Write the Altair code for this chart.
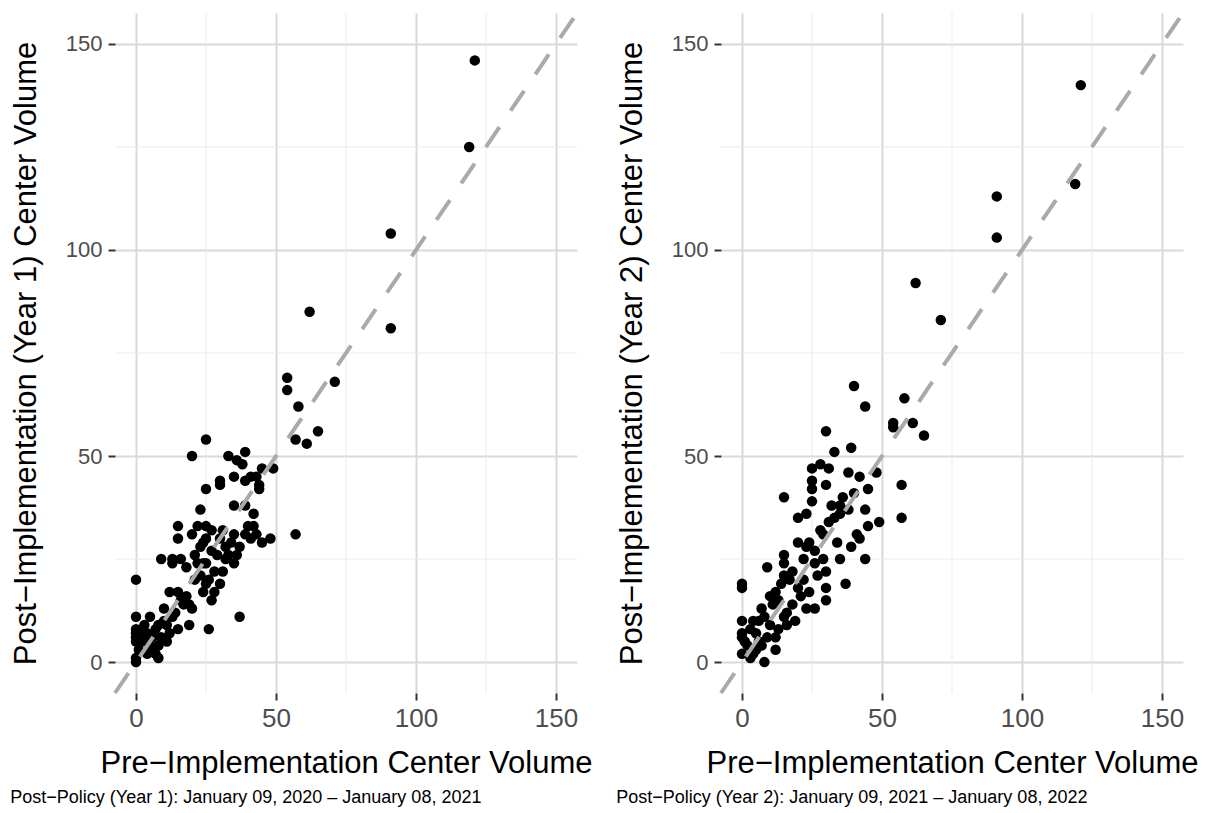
import altair as alt
import pandas as pd

# ---- Year 1 panel data (pre-implementation volume, post-implementation volume)
pre1 = [0, 0, 0, 0, 0, 0, 0, 0,
        3, 3, 4, 5, 6, 7, 8, 8, 9, 9, 10, 11, 12, 12, 13, 13, 13, 15, 15, 15, 15, 16,
        17, 18, 19, 20, 20, 20, 21, 22, 22, 23, 23, 24, 24, 25, 25, 25, 25, 25, 25, 26,
        27, 27, 28, 30, 30, 30, 30, 31, 32, 32, 33, 33, 34, 35, 35, 35, 35, 36, 37, 38,
        39, 39, 39, 39, 41, 41, 42, 42, 43, 44, 44, 45, 45, 48, 49, 54, 54, 57, 57, 58,
        61, 62, 65, 71, 91, 91, 119, 121,
        1, 2, 2, 4, 5, 6, 7, 8, 10, 11, 14, 16, 18, 19, 21, 23, 26, 28, 29, 31,
        24, 27, 37, 36, 40, 43]
post1 = [20, 11, 8, 7, 6, 5, 1, 0,
         9, 6, 2, 11, 3, 8, 4, 1, 6, 25, 13, 9, 7, 17, 11, 24, 25, 8, 17, 30, 33, 25,
         14, 23, 9, 13, 31, 50, 26, 24, 33, 28, 37, 17, 24, 19, 24, 30, 33, 42, 54, 8,
         15, 27, 22, 19, 30, 43, 44, 32, 25, 28, 26, 50, 29, 24, 31, 38, 45, 49, 11, 48,
         31, 38, 44, 51, 30, 45, 33, 36, 45, 42, 43, 29, 47, 30, 47, 66, 69, 31, 54, 62,
         53, 85, 56, 68, 81, 104, 125, 146,
         3, 5, 8, 7, 4, 6, 2, 9, 10, 5, 12, 15, 16, 14, 20, 21, 20, 17, 26, 22,
         29, 32, 28, 26, 33, 31]

# ---- Year 2 panel data
pre2 = [0, 0, 0, 0, 0, 0, 1, 3, 4, 5, 5, 6, 7, 7, 8, 9, 9, 10, 10, 12,
        12, 12, 13, 15, 15, 15, 15, 15, 16, 18, 19, 20, 20, 20, 22, 23, 23, 23, 24, 24,
        25, 25, 25, 25, 26, 26, 28, 29, 29, 30, 30, 30, 30, 30, 31, 31, 33, 35, 35, 35,
        34, 36, 37, 38, 38, 39, 39, 40, 40, 41, 42, 42, 44, 44, 44, 45, 45, 48, 49, 54,
        54, 57, 57, 58, 61, 62, 65, 71, 91, 91, 119, 121,
        2, 3, 4, 6, 8, 11, 13, 14, 16, 17, 18, 21, 22, 27, 26, 28, 32, 33]
post2 = [19, 18, 10, 7, 6, 2, 5, 1, 10, 7, 3, 10, 13, 4, 0, 6, 23, 16, 9, 6,
         17, 3, 8, 11, 21, 24, 26, 40, 12, 14, 10, 18, 29, 35, 25, 36, 13, 28, 17, 29,
         39, 42, 44, 47, 13, 24, 48, 25, 31, 15, 18, 22, 43, 56, 34, 47, 51, 25, 36, 38,
         29, 40, 19, 37, 46, 28, 52, 41, 67, 31, 30, 45, 25, 37, 62, 33, 42, 46, 34, 57,
         58, 35, 43, 64, 58, 92, 55, 83, 103, 113, 116, 140,
         4, 8, 2, 5, 11, 14, 15, 19, 9, 20, 22, 16, 20, 21, 27, 32, 38, 35]

# ---- axis breaks and reference line
major_breaks = [0, 50, 100, 150]
minor_breaks = [25, 75, 125]
axis_limits = [-7.5, 157.5]
identity_line = [-7.5, 157.5]

x_title = "Pre\u2212Implementation Center Volume"
y_titles = ["Post\u2212Implementation (Year 1) Center Volume",
            "Post\u2212Implementation (Year 2) Center Volume"]
captions = ["Post\u2212Policy (Year 1): January 09, 2020 \u2013 January 08, 2021",
            "Post\u2212Policy (Year 2): January 09, 2021 \u2013 January 08, 2022"]

FONT = "Liberation Sans"


def make_axis(title, label_size, label_pad, title_pad):
    return alt.Axis(values=major_breaks, title=title, labelFontSize=label_size,
                    titleFontSize=31, labelPadding=label_pad, titlePadding=title_pad,
                    titleFontWeight="normal", titleFont=FONT, labelFont=FONT,
                    titleColor="black", labelColor="#4d4d4d", domain=False,
                    ticks=True, tickColor="#333333", tickSize=7, tickWidth=2,
                    grid=True, gridColor="#d9d9d9", gridWidth=2)


def panel(pre, post, ytitle, caption):
    xs = alt.Scale(domain=axis_limits, nice=False, zero=False)
    ys = alt.Scale(domain=axis_limits, nice=False, zero=False)
    xaxis = make_axis(x_title, 26, 5, 17)
    yaxis = make_axis(ytitle, 22, 6, 23)
    minor_df = pd.DataFrame({"v": minor_breaks})
    vminor = alt.Chart(minor_df).mark_rule(color="#ebebeb", strokeWidth=1).encode(
        x=alt.X("v:Q", scale=xs, axis=xaxis))
    hminor = alt.Chart(minor_df).mark_rule(color="#ebebeb", strokeWidth=1).encode(
        y=alt.Y("v:Q", scale=ys, axis=yaxis))
    pts = alt.Chart(pd.DataFrame({"pre": pre, "post": post})).mark_circle(
        size=110, color="black", opacity=1).encode(
        x=alt.X("pre:Q", scale=xs, axis=xaxis),
        y=alt.Y("post:Q", scale=ys, axis=yaxis),
    )
    line = alt.Chart(pd.DataFrame({"a": identity_line})).mark_line(
        color="#aaaaaa", strokeWidth=4, strokeDash=[24, 20]).encode(
        x=alt.X("a:Q", scale=xs, axis=xaxis), y=alt.Y("a:Q", scale=ys, axis=yaxis))
    return alt.layer(vminor, hminor, pts, line).properties(
        width=462, height=680,
        title=alt.TitleParams(text=caption, orient="bottom", anchor="start",
                              frame="bounds", fontSize=18, font=FONT,
                              fontWeight="normal", color="black", offset=11, dx=0),
    )


left = panel(pre1, post1, y_titles[0], captions[0])
right = panel(pre2, post2, y_titles[1], captions[1])

chart = alt.hconcat(left, right, spacing=144, bounds="flush").properties(
    padding={"left": 10, "top": 5, "right": 5, "bottom": 5},
    background="white",
).configure_view(strokeOpacity=0, strokeWidth=0)

chart.save("out.html", embed_options={"renderer": "svg", "actions": False})
